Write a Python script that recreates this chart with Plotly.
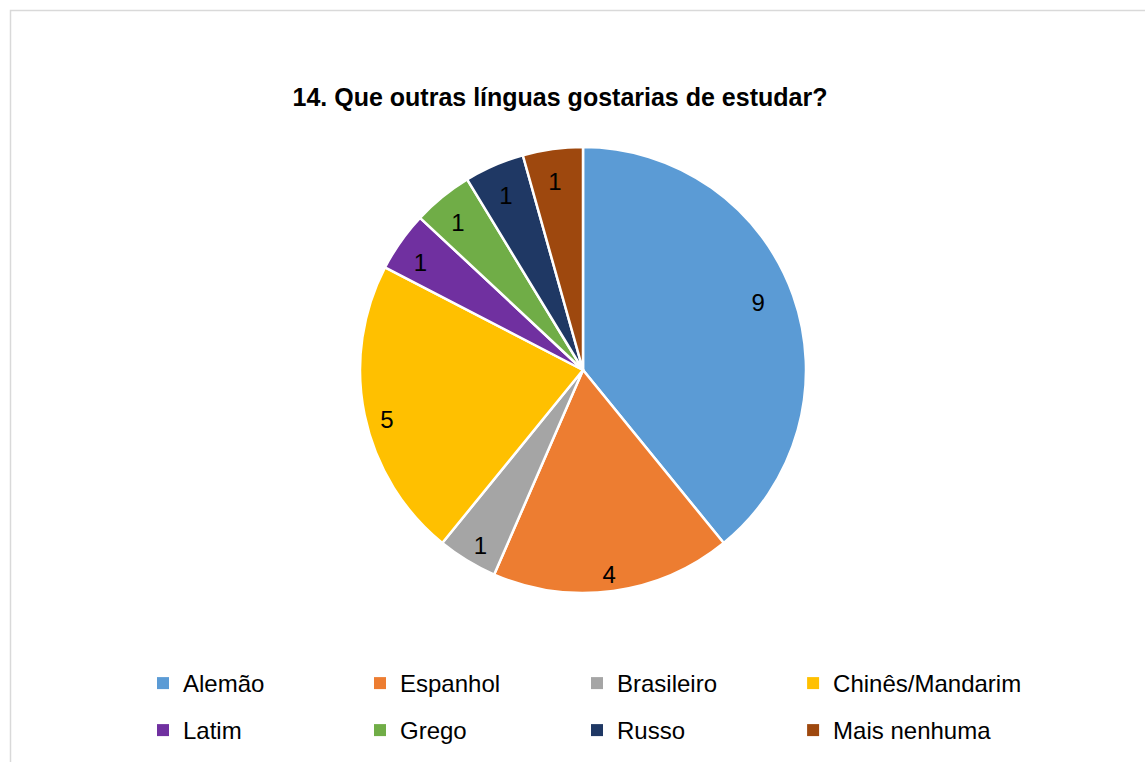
import plotly.graph_objects as go

labels = ["Alemão", "Espanhol", "Brasileiro", "Chinês/Mandarim", "Latim", "Grego", "Russo", "Mais nenhuma"]
values = [9, 4, 1, 5, 1, 1, 1, 1]
colors = ["#5B9BD5", "#ED7D31", "#A5A5A5", "#FFC000", "#7030A0", "#70AD47", "#1F3864", "#9E480E"]
title_text = "14. Que outras línguas gostarias de estudar?"

W, H = 1145, 762
FONT = "Liberation Sans, Arial, sans-serif"
cx, cy, r = 583, 370, 223

# placement of the invisible label-carrying pie for each slice: (centre x, centre y, radius) in px
label_pies = [(579, 363, 176), (570.5, 378, 185), (590, 378, 185), (581.5, 381, 185),
              (585, 374, 185), (588, 374, 185), (593, 377, 185), (593.5, 378, 185)]


def dom(x0, y0, rad):
    return dict(x=[(x0 - rad) / W, (x0 + rad) / W], y=[(H - y0 - rad) / H, (H - y0 + rad) / H])


common = dict(sort=False, direction="clockwise", rotation=0)

fig = go.Figure()
# legend carriers (fully covered by the main pie drawn on top of them)
legend_parts = [(slice(0, 3), "legend"), (slice(3, 4), "legend2"), (slice(4, 7), "legend3"), (slice(7, 8), "legend4")]
for sl, leg in legend_parts:
    fig.add_trace(go.Pie(labels=labels[sl], values=values[sl], marker=dict(colors=colors[sl]),
                         textinfo="none", domain=dom(cx, cy, r), hoverinfo="skip", legend=leg, **common))
# main pie
fig.add_trace(go.Pie(
    labels=labels, values=values,
    marker=dict(colors=colors, line=dict(color="white", width=2.5)),
    textinfo="none", domain=dom(cx, cy, r), hoverinfo="label+value", showlegend=False, **common,
))
# value labels
for i, (lx, ly, lr) in enumerate(label_pies):
    fig.add_trace(go.Pie(
        labels=labels, values=values,
        marker=dict(colors=["rgba(0,0,0,0)"] * len(values), line=dict(width=0)),
        textinfo="value",
        textposition=["outside" if j == i else "none" for j in range(len(values))],
        automargin=False,
        textfont=dict(family=FONT, size=24, color="black"),
        domain=dom(lx, ly, lr), hoverinfo="skip", showlegend=False, **common,
    ))

col_x = [143 + k * 216.7 for k in range(4)]
leg_common = dict(orientation="h", xanchor="left", yanchor="top",
                  itemwidth=30, traceorder="normal", itemclick=False, itemdoubleclick=False,
                  font=dict(size=24, family=FONT, color="black"), bgcolor="rgba(0,0,0,0)")
multi = dict(entrywidth=172, entrywidthmode="pixels")

fig.update_layout(
    width=W, height=H,
    margin=dict(l=0, r=0, t=0, b=0, autoexpand=False),
    paper_bgcolor="white",
    font=dict(family=FONT, color="black"),
    title=dict(text="<b>" + title_text + "</b>", x=560 / W, xanchor="center", y=1 - 97 / H, yanchor="middle",
               font=dict(size=25, family=FONT, color="black")),
    legend=dict(x=col_x[0] / W, y=1 - 661 / H, **multi, **leg_common),
    legend2=dict(x=col_x[3] / W, y=1 - 661 / H, **leg_common),
    legend3=dict(x=col_x[0] / W, y=1 - 708 / H, **multi, **leg_common),
    legend4=dict(x=col_x[3] / W, y=1 - 708 / H, **leg_common),
    shapes=[dict(type="rect", xref="paper", yref="paper", x0=10.5 / W, x1=1.05, y0=-0.05, y1=1 - 10.5 / H,
                 line=dict(color="#D9D9D9", width=1.5), fillcolor="rgba(0,0,0,0)", layer="below")],
)

fig.write_html("out.html")
